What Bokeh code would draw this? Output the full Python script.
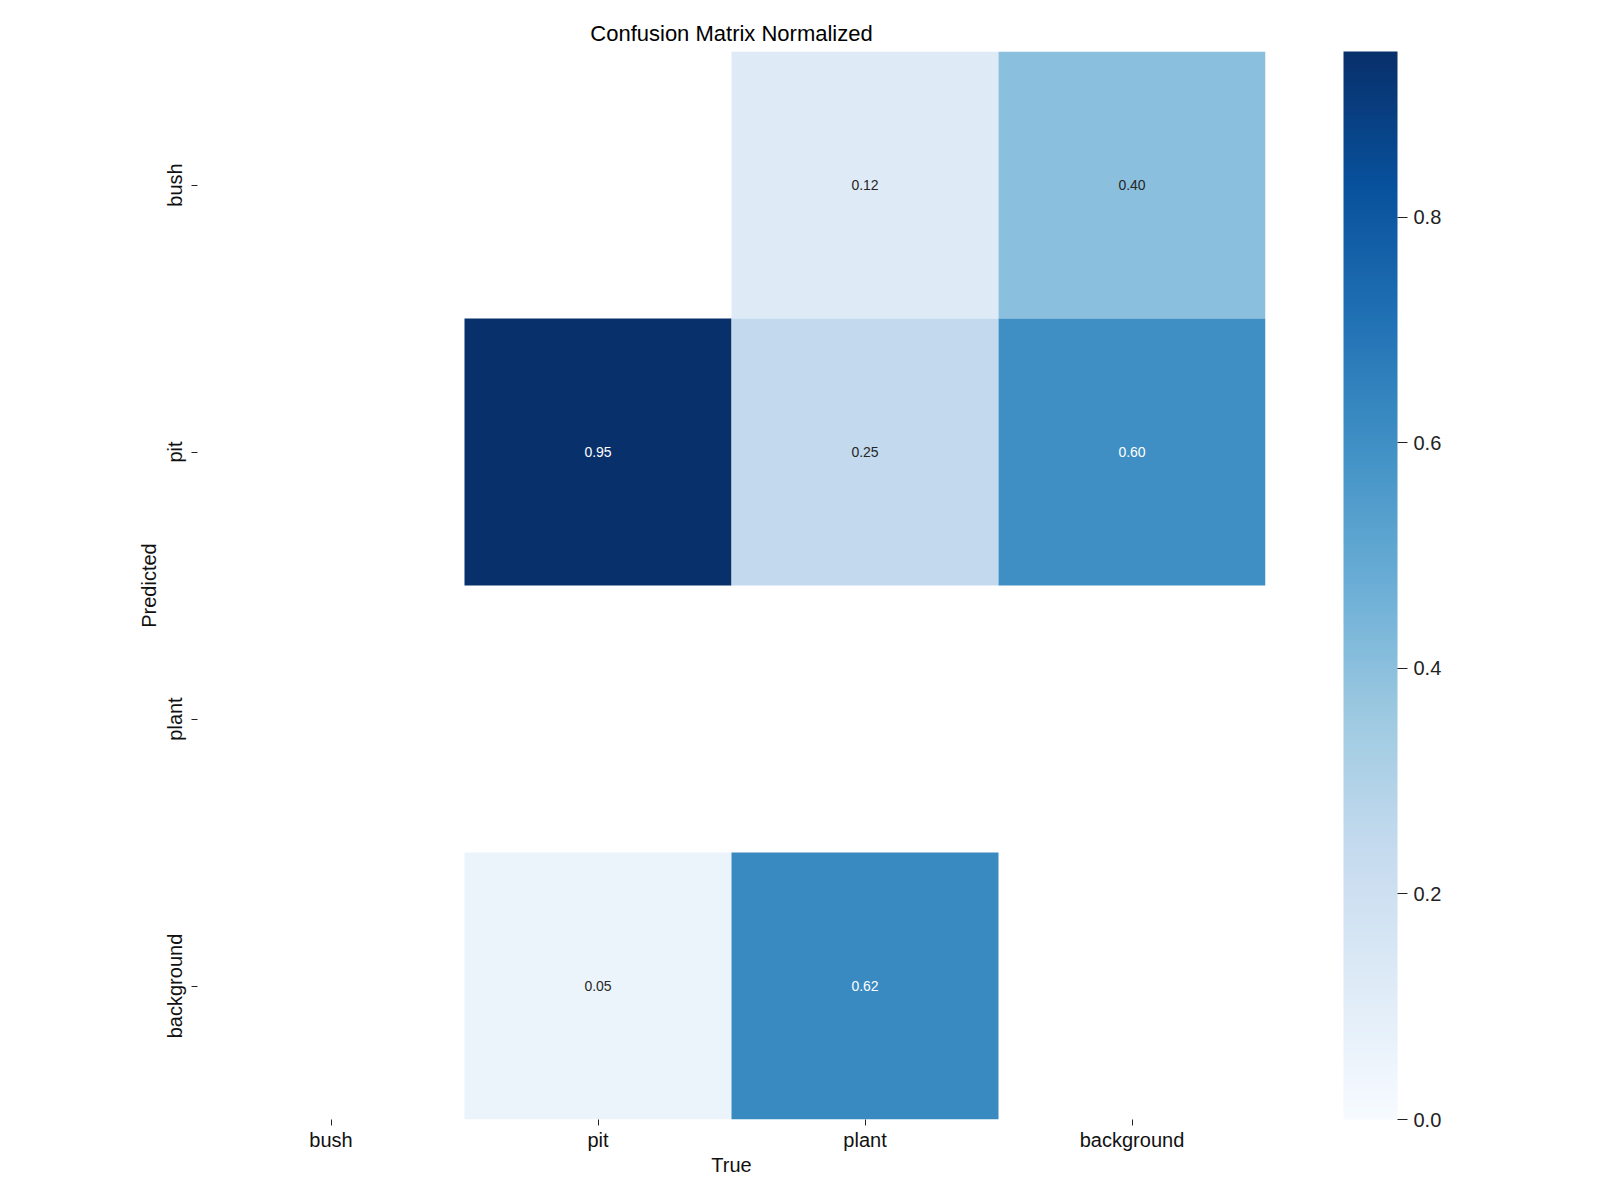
import numpy as np
from bokeh.plotting import figure
from bokeh.models import (ColumnDataSource, LinearColorMapper, ColorBar, FixedTicker,
                          PrintfTickFormatter, Title)
from bokeh.core.properties import value
from bokeh.palettes import Blues256
from bokeh.transform import transform
from bokeh.embed import file_html
from bokeh.resources import INLINE

# ---- data ----
true_labels = ["bush", "pit", "plant", "background"]        # columns (True)
pred_labels = ["bush", "pit", "plant", "background"]        # rows (Predicted)
row_bush = [0.00, 0.00, 0.12, 0.40]
row_pit = [0.00, 0.947, 0.25, 0.60]
row_plant = [0.00, 0.00, 0.00, 0.00]
row_background = [0.00, 0.053, 0.62, 0.00]
matrix = [row_bush, row_pit, row_plant, row_background]
cbar_ticks = [0.0, 0.2, 0.4, 0.6, 0.8]

vmin = 0.0
vmax = max(max(r) for r in matrix)

FONT = "Liberation Sans"
palette = list(Blues256)[::-1]  # light -> dark
mapper = LinearColorMapper(palette=palette, low=vmin, high=vmax)


def lum_color(v):
    idx = int(np.clip((v - vmin) / (vmax - vmin) * len(palette), 0, len(palette) - 1))
    h = palette[idx].lstrip("#")
    rgb = [int(h[i:i + 2], 16) / 255 for i in (0, 2, 4)]
    lin = [c / 12.92 if c <= 0.03928 else ((c + 0.055) / 1.055) ** 2.4 for c in rgb]
    L = 0.2126 * lin[0] + 0.7152 * lin[1] + 0.0722 * lin[2]
    return "#262626" if L > 0.408 else "#ffffff"


xs, ys, vals, txt, tcol = [], [], [], [], []
for r, pname in enumerate(pred_labels):
    for c, tname in enumerate(true_labels):
        v = matrix[r][c]
        if v < 0.005:
            continue
        xs.append(tname)
        ys.append(pname)
        vals.append(v)
        txt.append(f"{v:.2f}")
        tcol.append(lum_color(v))

src = ColumnDataSource(dict(x=xs, y=ys, v=vals, t=txt, tc=tcol))

p = figure(x_range=true_labels, y_range=pred_labels[::-1],
           width=1600, height=1200, output_backend="svg", toolbar_location=None,
           min_border_left=197, min_border_top=51, min_border_bottom=81, min_border_right=335,
           frame_width=1068, frame_height=1068)

p.rect(x="x", y="y", width=1, height=1, source=src,
       fill_color=transform("v", mapper), line_color=None)
p.text(x="x", y="y", text="t", source=src, text_color="tc",
       text_align="center", text_baseline="middle", text_font_size="14px",
       text_font=value(FONT))

p.title = Title(text="Confusion Matrix Normalized", align="center",
                text_font=FONT, text_font_size="22px", text_font_style="normal",
                text_color="#000000", standoff=12)

for ax in (p.xaxis[0], p.yaxis[0]):
    ax.axis_line_color = None
    ax.major_tick_line_color = "#222222"
    ax.major_tick_out = 6
    ax.major_tick_in = 0
    ax.minor_tick_line_color = None
    ax.major_label_text_font = FONT
    ax.major_label_text_font_size = "20px"
    ax.major_label_text_color = "#111111"
    ax.axis_label_text_font = FONT
    ax.axis_label_text_font_size = "20px"
    ax.axis_label_text_font_style = "normal"
    ax.axis_label_text_color = "#111111"

p.xaxis.axis_label = "True"
p.yaxis.axis_label = "Predicted"
p.xaxis.major_label_standoff = 3
p.xaxis.axis_label_standoff = 0
p.yaxis.major_label_orientation = "vertical"
p.yaxis.major_label_standoff = 6
p.yaxis.axis_label_standoff = 1

p.xgrid.grid_line_color = None
p.ygrid.grid_line_color = None
p.outline_line_color = None

cb = ColorBar(color_mapper=mapper, ticker=FixedTicker(ticks=cbar_ticks),
              formatter=PrintfTickFormatter(format="%.1f"),
              width=54, height=1068, padding=0, margin=0, location=(1146, 0),
              major_tick_out=10, major_tick_in=0, major_tick_line_color="#222222",
              minor_tick_line_color=None, bar_line_color=None,
              border_line_color=None, background_fill_color=None,
              major_label_text_font=FONT, major_label_text_font_size="20px",
              major_label_text_color="#222222", label_standoff=6)
p.add_layout(cb, "center")

open("out.html", "w").write(file_html(p, INLINE))
